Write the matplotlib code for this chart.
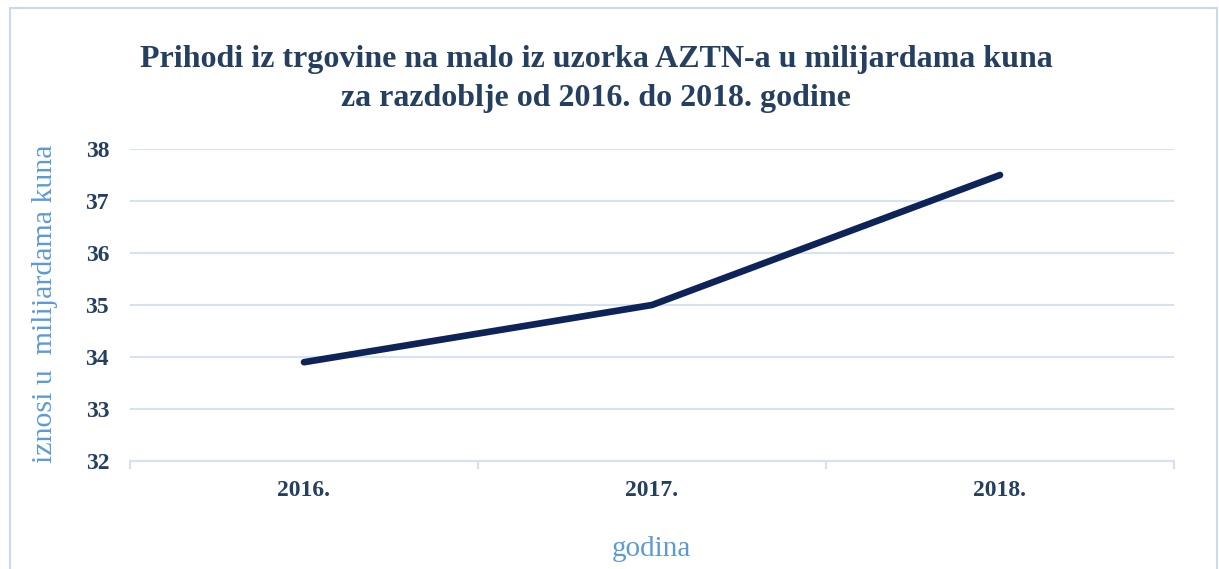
import matplotlib.pyplot as plt
from matplotlib.patches import Rectangle

godine = ['2016.', '2017.', '2018.']
prihodi = [33.9, 35.0, 37.5]

plt.rcParams['font.family'] = 'Liberation Serif'

fig = plt.figure(figsize=(12.19, 5.69), dpi=100)
ax = fig.add_axes([130 / 1219, 1 - 461 / 569, 1044 / 1219, 312 / 569])

x = list(range(len(godine)))
ax.plot(x, prihodi, color='#0E2357', linewidth=4.8, solid_capstyle='round')

ax.set_xlim(-0.5, len(godine) - 0.5)
ax.set_ylim(32, 38)
ax.set_yticks(range(32, 39))
ax.set_xticks(x)
ax.set_xticklabels(godine)
ax.grid(axis='y', color='#D6E2F3', linewidth=1.5)
ax.set_axisbelow(True)

for s in ['top', 'right', 'left']:
    ax.spines[s].set_visible(False)
ax.spines['bottom'].set_color('#D6E2F3')
ax.spines['bottom'].set_linewidth(1.5)

# ticks on category boundaries
ax.set_xticks([-0.5, 0.5, 1.5, 2.5], minor=True)
ax.tick_params(axis='x', which='minor', length=6, width=1.5, color='#D6E2F3')
ax.tick_params(axis='x', which='major', length=0, pad=14)
ax.tick_params(axis='y', length=0, pad=15)
for lab in ax.get_xticklabels() + ax.get_yticklabels():
    lab.set_fontsize(17)
    lab.set_fontweight('bold')
    lab.set_color('#243F60')

fig.text(45 / 1219, 1 - 304 / 569, 'iznosi u  milijardama kuna', rotation=90,
         ha='center', va='center', fontsize=21.5, color='#5B9BD5')
fig.text(651 / 1219, 1 - 549 / 569, 'godina', ha='center', va='center',
         fontsize=21, color='#5B9BD5')
fig.text(596 / 1219, 1 - 79 / 569,
         'Prihodi iz trgovine na malo iz uzorka AZTN-a u milijardama kuna\nza razdoblje od 2016. do 2018. godine',
         ha='center', va='center', fontsize=23, fontweight='bold', color='#243F60',
         linespacing=1.45)

fig.patches.append(Rectangle((10 / 1219, -0.05), 1207 / 1219, 1.05 - 8 / 569,
                             transform=fig.transFigure, fill=False,
                             edgecolor='#C9DAF0', linewidth=1.5))

fig.savefig('out.png', dpi=100)
